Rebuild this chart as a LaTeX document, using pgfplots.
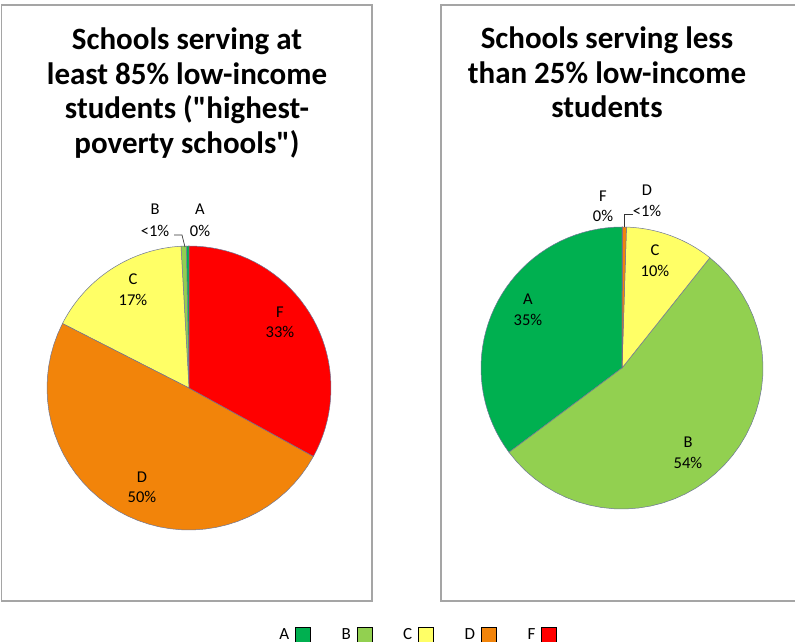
\documentclass[border=0pt]{standalone}
\usepackage{pgfplots}
\usepackage{pgfplotstable}
\pgfplotsset{compat=1.18}
\usepackage{fontspec}
\setmainfont{Carlito}[Ligatures=TeXOff]

\definecolor{gradeA}{RGB}{0,176,80}
\definecolor{gradeB}{RGB}{146,208,80}
\definecolor{gradeC}{RGB}{255,255,102}
\definecolor{gradeD}{RGB}{242,132,10}
\definecolor{gradeF}{RGB}{255,0,0}
\definecolor{slice}{RGB}{110,118,150}
\definecolor{panel}{RGB}{165,165,165}

% share of schools by grade (percent)
\pgfplotstableread{
grade pct
A 0.3
B 0.6
C 16.6
D 49.5
F 33.0
}\leftdata
\pgfplotstableread{
grade pct
A 35.2
B 54.1
C 10.2
D 0.45
F 0.05
}\rightdata

\newcommand\drawpie[2]{%
  \gdef\cum{90}%
  \pgfplotstablegetrowsof{#1}\pgfmathtruncatemacro\last{\pgfplotsretval-1}%
  \pgfplotsforeachungrouped \i in {0,...,\last}{%
    \pgfplotstablegetelem{\i}{pct}\of{#1}\let\p\pgfplotsretval
    \pgfplotstablegetelem{\i}{grade}\of{#1}\let\g\pgfplotsretval
    \pgfmathsetmacro\a{\cum}\pgfmathsetmacro\b{\cum+3.6*\p}%
    \edef\temp{\noexpand\addplot[fill=grade\g, draw=slice, line width=0.5pt, line join=round, domain=\a:\b, samples=40] ({#2*cos(x)},{#2*sin(x)}) -- (axis cs:0,0) -- cycle;}%
    \temp
    \xdef\cum{\b}%
  }%
}
\newcommand\lab[5]{% x y letter pct
  \node[anchor=base, font=\fontsize{16.5}{18}\selectfont, inner sep=0pt] at (axis cs:#1,#2) {#3};
  \node[anchor=base, font=\fontsize{16.5}{18}\selectfont, inner sep=0pt] at (axis cs:#1,#4) {#5};
}

\begin{document}
\begin{tikzpicture}
% frame axis in pixel-like units
\begin{axis}[at={(0pt,0pt)}, anchor=south west, scale only axis, width=795pt, height=642pt,
  xmin=0, xmax=795, ymin=0, ymax=642, hide axis, clip=false,
  legend columns=5, legend plot pos=right,
  legend image code/.code={\fill[#1] (0pt,-7.5pt) rectangle (15pt,7.5pt);},
  legend style={at={(axis cs:418,7.5)}, anchor=center, draw=none, fill=none,
    inner sep=0pt, font=\fontsize{17}{17}\selectfont,
    nodes={inner sep=0pt},
    /tikz/every odd column/.append style={column sep=6pt},
    /tikz/every even column/.append style={column sep=31pt}}]
  \draw[panel, line width=1.2pt] (axis cs:1.5,41) rectangle (axis cs:372,637);
  \draw[panel, line width=1.2pt] (axis cs:800,637) -- (axis cs:441,637) -- (axis cs:441,41) -- (axis cs:800,41);
  \begin{scope}[every node/.style={anchor=base, inner sep=0pt, font=\fontsize{31}{34}\selectfont\bfseries}]
    \node at (axis cs:187,592) {Schools serving at};
    \node at (axis cs:187,557.5) {least 85\% low-income};
    \node at (axis cs:187,523) {students ("highest-};
    \node at (axis cs:187,488.5) {poverty schools")};
    \node at (axis cs:607,593) {Schools serving less};
    \node at (axis cs:607,558) {than 25\% low-income};
    \node at (axis cs:607,524) {students};
  \end{scope}
  \addlegendimage{fill=gradeA}\addlegendentry{A}
  \addlegendimage{fill=gradeB}\addlegendentry{B}
  \addlegendimage{fill=gradeC}\addlegendentry{C}
  \addlegendimage{fill=gradeD}\addlegendentry{D}
  \addlegendimage{fill=gradeF}\addlegendentry{F}
\end{axis}

% left pie
\begin{axis}[at={(189pt,254pt)}, anchor=center, scale only axis, width=284pt, height=284pt,
  xmin=-142, xmax=142, ymin=-142, ymax=142, hide axis, clip=false]
  \drawpie{\leftdata}{142}
  \lab{-56}{103}{C}{82.5}{17\%}
  \lab{91}{70}{F}{50}{33\%}
  \lab{-47}{-95}{D}{-115}{50\%}
  \lab{-34}{173}{B}{151}{<1\%}
  \lab{11}{173}{A}{151}{0\%}
  \draw[black!80, line width=0.7pt] (axis cs:-15,153) -- (axis cs:-7,153) -- (axis cs:-4,141);
\end{axis}

% right pie
\begin{axis}[at={(622pt,274pt)}, anchor=center, scale only axis, width=282pt, height=282pt,
  xmin=-141, xmax=141, ymin=-141, ymax=141, hide axis, clip=false]
  \drawpie{\rightdata}{141}
  \lab{-94}{63}{A}{42}{35\%}
  \lab{66}{-80}{B}{-101}{54\%}
  \lab{33}{112}{C}{91}{10\%}
  \lab{-19}{166}{F}{146}{0\%}
  \lab{25}{172}{D}{151}{<1\%}
  \draw[black!80, line width=0.7pt] (axis cs:11,154) -- (axis cs:2,154) -- (axis cs:2,141);
\end{axis}
\pgfresetboundingbox
\useasboundingbox (0pt,0pt) rectangle (795pt,642pt);
\end{tikzpicture}
\end{document}
